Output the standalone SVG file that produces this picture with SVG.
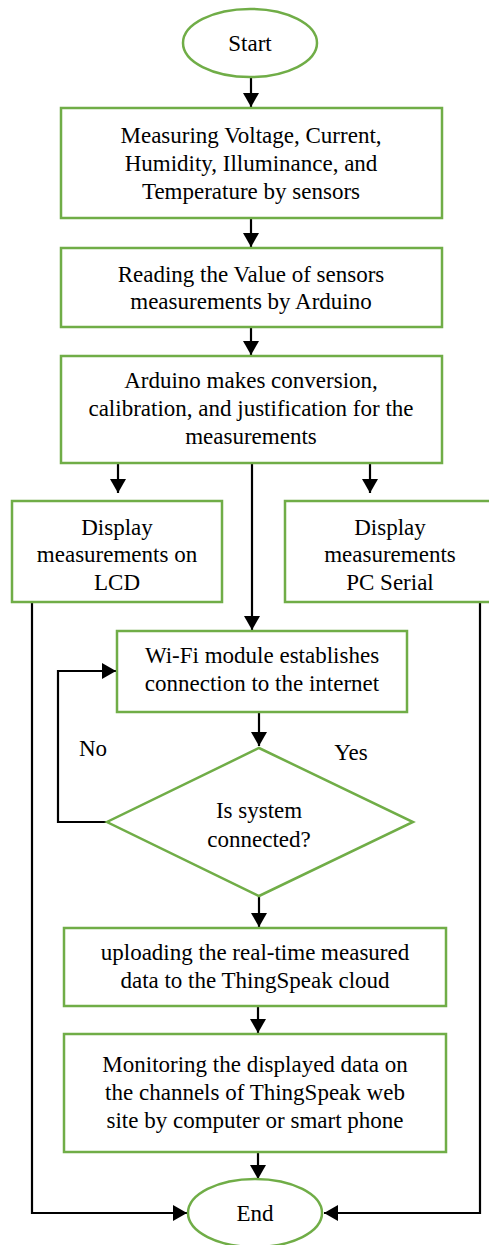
<svg xmlns="http://www.w3.org/2000/svg" width="489" height="1245" viewBox="0 0 489 1245" font-family="'Liberation Serif', 'Times New Roman', 'DejaVu Serif', serif">
<style>
.n{fill:#fff;stroke:#70AD47;stroke-width:2.5}
.t{font-size:23px;fill:#000;text-anchor:middle}
.c{fill:none;stroke:#000;stroke-width:2.2}
</style>
<defs>
<marker id="a" markerUnits="userSpaceOnUse" markerWidth="16" markerHeight="16" refX="14" refY="8" orient="auto">
<path d="M0,0 L14,8 L0,16 Z" fill="#000"/>
</marker>
</defs>
<rect width="489" height="1245" fill="#fff"/>
<g id="connectors">
<path class="c" d="M251,77 V107" marker-end="url(#a)"/>
<path class="c" d="M251,218 V247" marker-end="url(#a)"/>
<path class="c" d="M251,327 V355" marker-end="url(#a)"/>
<path class="c" d="M118,463 V493" marker-end="url(#a)"/>
<path class="c" d="M370,463 V493" marker-end="url(#a)"/>
<path class="c" d="M252,463 V630" marker-end="url(#a)"/>
<path class="c" d="M259,712 V746" marker-end="url(#a)"/>
<path class="c" d="M107,822 H58 V671 H116" marker-end="url(#a)"/>
<path class="c" d="M259,896 V927" marker-end="url(#a)"/>
<path class="c" d="M258,1006 V1033" marker-end="url(#a)"/>
<path class="c" d="M258,1152 V1179" marker-end="url(#a)"/>
<path class="c" d="M32,602 V1213 H187" marker-end="url(#a)"/>
<path class="c" d="M480,602 V1213 H324" marker-end="url(#a)"/>
</g>
<g id="start">
<ellipse class="n" cx="250" cy="43" rx="67" ry="34"/>
<text class="t" x="250" y="51">Start</text>
</g>
<g id="measure">
<rect class="n" x="61" y="108" width="381" height="110"/>
<text class="t" x="251" y="143">Measuring Voltage, Current,</text>
<text class="t" x="251" y="171">Humidity, Illuminance, and</text>
<text class="t" x="251" y="199">Temperature by sensors</text>
</g>
<g id="read">
<rect class="n" x="61" y="248" width="381" height="79"/>
<text class="t" x="251" y="282">Reading the Value of sensors</text>
<text class="t" x="251" y="309">measurements by Arduino</text>
</g>
<g id="convert">
<rect class="n" x="61" y="356" width="381" height="107"/>
<text class="t" x="251" y="388">Arduino makes conversion,</text>
<text class="t" x="251" y="416">calibration, and justification for the</text>
<text class="t" x="251" y="444">measurements</text>
</g>
<g id="lcd">
<rect class="n" x="12" y="501" width="210" height="101"/>
<text class="t" x="117" y="535">Display</text>
<text class="t" x="117" y="562">measurements on</text>
<text class="t" x="117" y="590">LCD</text>
</g>
<g id="pc">
<rect class="n" x="285" y="501" width="210" height="101"/>
<text class="t" x="390" y="535">Display</text>
<text class="t" x="390" y="562">measurements</text>
<text class="t" x="390" y="590">PC Serial</text>
</g>
<g id="wifi">
<rect class="n" x="117" y="631" width="290" height="81"/>
<text class="t" x="262" y="663">Wi-Fi module establishes</text>
<text class="t" x="262" y="691">connection to the internet</text>
</g>
<g id="decision">
<polygon class="n" points="259,748 413,822 259,896 107,822"/>
<text class="t" x="259" y="818">Is system</text>
<text class="t" x="259" y="847">connected?</text>
</g>
<text class="t" x="93" y="756">No</text>
<text class="t" x="351" y="760">Yes</text>
<g id="upload">
<rect class="n" x="64" y="928" width="382" height="78"/>
<text class="t" x="255" y="960">uploading the real-time measured</text>
<text class="t" x="255" y="988">data to the ThingSpeak cloud</text>
</g>
<g id="monitor">
<rect class="n" x="64" y="1034" width="382" height="118"/>
<text class="t" x="255" y="1072">Monitoring the displayed data on</text>
<text class="t" x="255" y="1100">the channels of ThingSpeak web</text>
<text class="t" x="255" y="1128">site by computer or smart phone</text>
</g>
<g id="end">
<ellipse class="n" cx="255" cy="1213" rx="67" ry="34"/>
<text class="t" x="255" y="1221">End</text>
</g>
</svg>
